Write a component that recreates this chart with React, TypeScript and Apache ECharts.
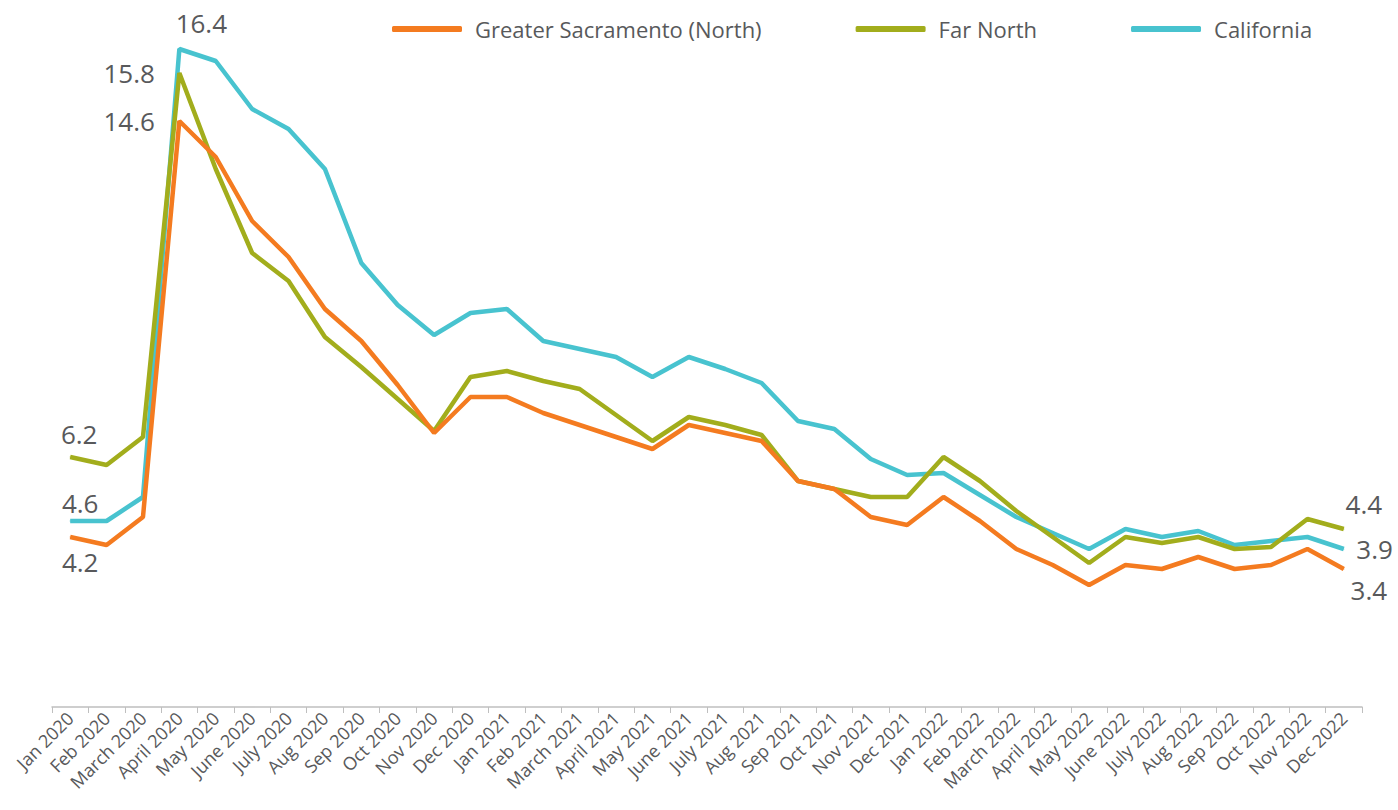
import React, { useEffect, useRef } from "react";
import * as echarts from "echarts";

const months = [
  "Jan 2020", "Feb 2020", "March 2020", "April 2020", "May 2020", "June 2020", "July 2020", "Aug 2020", "Sep 2020", "Oct 2020", "Nov 2020", "Dec 2020",
  "Jan 2021", "Feb 2021", "March 2021", "April 2021", "May 2021", "June 2021", "July 2021", "Aug 2021", "Sep 2021", "Oct 2021", "Nov 2021", "Dec 2021",
  "Jan 2022", "Feb 2022", "March 2022", "April 2022", "May 2022", "June 2022", "July 2022", "Aug 2022", "Sep 2022", "Oct 2022", "Nov 2022", "Dec 2022",
];

const greaterSacramento = [
  4.2, 4.0, 4.7, 14.6, 13.7, 12.1, 11.2, 9.9, 9.1, 8.0, 6.8, 7.7,
  7.7, 7.3, 7.0, 6.7, 6.4, 7.0, 6.8, 6.6, 5.6, 5.4, 4.7, 4.5,
  5.2, 4.6, 3.9, 3.5, 3.0, 3.5, 3.4, 3.7, 3.4, 3.5, 3.9, 3.4,
];

const farNorth = [
  6.2, 6.0, 6.7, 15.8, 13.4, 11.3, 10.6, 9.2, 8.45, 7.65, 6.85, 8.2,
  8.35, 8.1, 7.9, 7.25, 6.6, 7.2, 7.0, 6.75, 5.6, 5.4, 5.2, 5.2,
  6.2, 5.6, 4.85, 4.2, 3.55, 4.2, 4.05, 4.2, 3.9, 3.95, 4.65, 4.4,
];

const california = [
  4.6, 4.6, 5.2, 16.4, 16.1, 14.9, 14.4, 13.4, 11.05, 10.0, 9.25, 9.8,
  9.9, 9.1, 8.9, 8.7, 8.2, 8.7, 8.4, 8.05, 7.1, 6.9, 6.15, 5.75,
  5.8, 5.25, 4.7, 4.3, 3.9, 4.4, 4.2, 4.35, 4.0, 4.1, 4.2, 3.9,
];

const COLORS = { sac: "#F47B20", far: "#A2AD1C", ca: "#48C3CF" };
const TEXT = "#58595B";
const FONT = "'Open Sans', 'Noto Sans', sans-serif";

type LabelSpec = { [idx: number]: any };

function withLabels(values: number[], specs: LabelSpec) {
  return values.map((v, i) => {
    const s = specs[i];
    if (!s) return v;
    return {
      value: v,
      label: {
        show: true,
        formatter: (p: any) => Number(p.value).toFixed(1),
        color: TEXT,
        fontSize: 26,
        fontFamily: FONT,
        ...s,
      },
    };
  });
}

export default function App() {
  const ref = useRef<HTMLDivElement>(null);
  useEffect(() => {
    document.body.style.margin = "0";
    if (!ref.current) return;
    const chart = echarts.init(ref.current, undefined, { renderer: "svg" });
    const mkSeries = (name: string, color: string, data: any[], z: number) => ({
      name,
      type: "line",
      data,
      z,
      symbol: "circle",
      symbolSize: 1,
      showSymbol: true,
      itemStyle: { color },
      lineStyle: { color, width: 4.5 },
      label: { show: false },
      emphasis: { disabled: true },
    });
    chart.setOption({
      animation: false,
      backgroundColor: "#ffffff",
      legend: {
        top: 13,
        left: 387,
        itemWidth: 70,
        itemHeight: 6,
        itemGap: 94,
        icon: "roundRect",
        textStyle: { color: TEXT, fontSize: 22, fontFamily: FONT, padding: [0, 0, 0, 8] },
        data: ["Greater Sacramento (North)", "Far North", "California"],
      },
      grid: { left: 52, right: 36, top: 25, bottom: 103, containLabel: false },
      xAxis: {
        type: "category",
        data: months,
        boundaryGap: true,
        axisLine: { onZero: false, lineStyle: { color: "#BFBFBF", width: 1.5 } },
        axisTick: { show: true, length: 6, lineStyle: { color: "#BFBFBF" } },
        axisLabel: {
          rotate: 45,
          interval: 0,
          color: TEXT,
          fontSize: 18,
          fontFamily: FONT,
          margin: 8,
        },
      },
      yAxis: {
        type: "value",
        min: -0.05,
        max: 17,
        show: false,
        splitLine: { show: false },
      },
      series: [
        mkSeries(
          "Greater Sacramento (North)",
          COLORS.sac,
          withLabels(greaterSacramento, {
            0: { position: "bottom", offset: [10, 6] },
            3: { position: "left", distance: 24 },
            35: { position: "bottom", offset: [25, 2] },
          }),
          3
        ),
        mkSeries(
          "Far North",
          COLORS.far,
          withLabels(farNorth, {
            0: { position: "top", offset: [9, -5] },
            3: { position: "left", distance: 24 },
            35: { position: "top", offset: [20, -7] },
          }),
          2
        ),
        mkSeries(
          "California",
          COLORS.ca,
          withLabels(california, {
            0: { position: "top", offset: [10, 0] },
            3: { position: "top", offset: [22, -8] },
            35: { position: "right", distance: 12 },
          }),
          1
        ),
      ],
    });
    return () => chart.dispose();
  }, []);
  return <div ref={ref} style={{ width: 1398, height: 810 }} />;
}
